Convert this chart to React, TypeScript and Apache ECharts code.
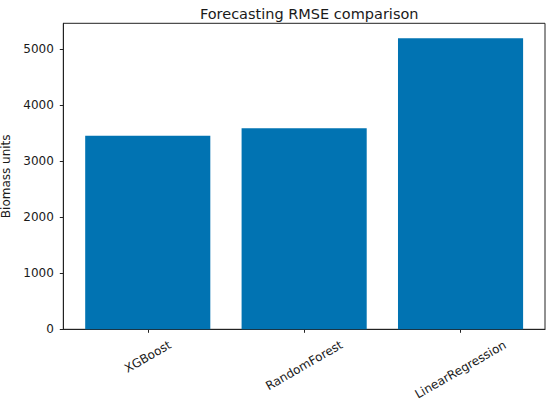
import React, { useEffect, useRef } from 'react';
import * as echarts from 'echarts';

const categories = ['XGBoost', 'RandomForest', 'LinearRegression'];
const rmseValues = [3457, 3589, 5196];
const yTickValues = [0, 1000, 2000, 3000, 4000, 5000];
const titleText = 'Forecasting RMSE comparison';
const yAxisTitle = 'Biomass units';

const FONT = 'DejaVu Sans';
const LABEL_SIZE = 12;
const TEXT_COLOR = '#1a1a1a';
const BAR_COLOR = '#0173B2';

function measureWidth(text: string, size: number): number {
  const ctx = document.createElement('canvas').getContext('2d');
  if (!ctx) return text.length * size * 0.6;
  ctx.font = `${size}px "${FONT}"`;
  return ctx.measureText(text).width;
}

export default function App() {
  const ref = useRef<HTMLDivElement>(null);

  useEffect(() => {
    if (!ref.current) return;
    const chart = echarts.init(ref.current, undefined, { renderer: 'svg' });

    // rich styles: shift each rotated label so its rotated bbox top sits at a fixed line (matplotlib-like centring)
    const rich: Record<string, any> = {};
    categories.forEach((c, i) => {
      const w = measureWidth(c, LABEL_SIZE);
      const h = 14;
      const d = 6.5 + (0.5 * w + 0.866 * h) / 2;
      rich['c' + i] = {
        fontFamily: FONT,
        fontSize: LABEL_SIZE,
        color: TEXT_COLOR,
        padding: [1.732 * d, d, 0, 0],
      };
    });

    const option: any = {
      animation: false,
      backgroundColor: '#ffffff',
      title: {
        text: titleText,
        left: 304.2,
        top: 1,
        textAlign: 'center',
        textStyle: {
          fontFamily: FONT,
          fontSize: 14.5,
          fontWeight: 'normal',
          color: TEXT_COLOR,
        },
      },
      grid: {
        left: 63.3,
        top: 23.3,
        right: 5,
        bottom: 75.7,
        show: true,
        borderColor: '#222',
        borderWidth: 1,
        backgroundColor: 'transparent',
        containLabel: false,
        outerBoundsMode: 'none',
      },
      xAxis: {
        type: 'value',
        min: -0.54,
        max: 2.54,
        splitLine: { show: false },
        axisLine: { show: true, onZero: false, lineStyle: { color: '#222', width: 1 } },
        axisTick: {
          show: true,
          customValues: categories.map((_, i) => i),
          length: 3.5,
          lineStyle: { color: '#222', width: 1 },
        },
        axisLabel: {
          show: true,
          customValues: categories.map((_, i) => i),
          rotate: 30,
          align: 'center',
          verticalAlign: 'middle',
          margin: 2,
          formatter: (v: number) => {
            const i = Math.round(v);
            return `{c${i}|${categories[i]}}`;
          },
          rich,
          fontFamily: FONT,
          fontSize: LABEL_SIZE,
          color: TEXT_COLOR,
        },
      },
      yAxis: {
        type: 'value',
        min: 0,
        max: 5464,
        interval: 1000,
        name: yAxisTitle,
        nameLocation: 'middle',
        nameGap: 43,
        nameTextStyle: {
          fontFamily: FONT,
          fontSize: LABEL_SIZE,
          color: TEXT_COLOR,
        },
        splitLine: { show: false },
        axisLine: { show: true, onZero: false, lineStyle: { color: '#222', width: 1 } },
        axisTick: {
          show: true,
          customValues: yTickValues,
          length: 3.5,
          lineStyle: { color: '#222', width: 1 },
        },
        axisLabel: {
          show: true,
          customValues: yTickValues,
          margin: 9.5,
          formatter: (v: number) => String(v),
          fontFamily: FONT,
          fontSize: LABEL_SIZE,
          color: TEXT_COLOR,
        },
      },
      series: [
        {
          type: 'bar',
          data: rmseValues.map((v, i) => [i, v]),
          barWidth: '80%',
          itemStyle: { color: BAR_COLOR },
        },
      ],
    };

    chart.setOption(option);
    return () => {
      chart.dispose();
    };
  }, []);

  return (
    <div
      ref={ref}
      style={{ position: 'fixed', left: 0, top: 0, width: 550, height: 405, background: '#fff' }}
    />
  );
}
